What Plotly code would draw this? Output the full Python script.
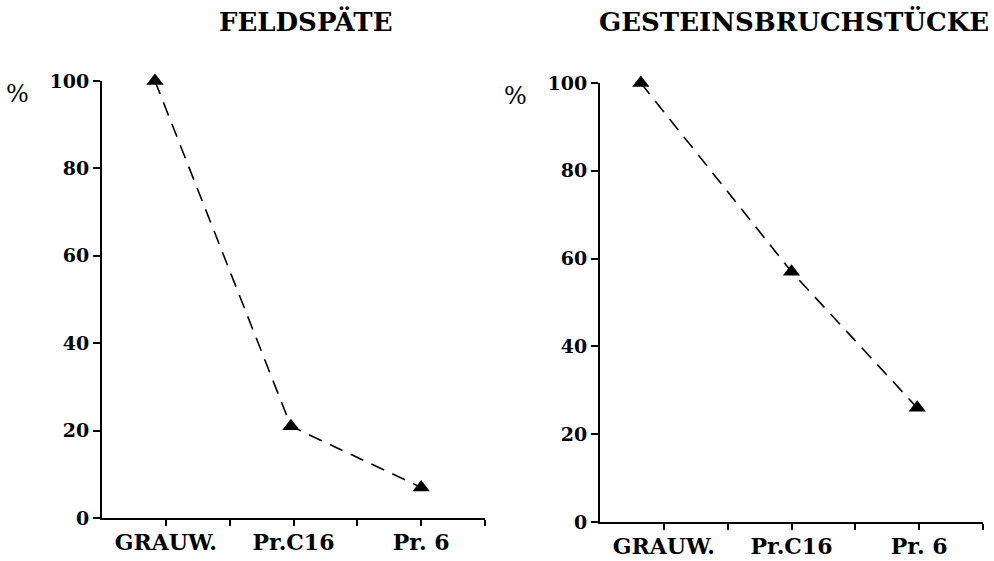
import plotly.graph_objects as go

categories = ["GRAUW.", "Pr.C16", "Pr. 6"]
cat_pos = [1, 3, 5]
feld_x = [0.83, 2.96, 5.0]
feld_y = [100, 21, 7]
gest_x = [0.64, 3.0, 4.97]
gest_y = [100, 57, 26]
y_ticks = [0, 20, 40, 60, 80, 100]
titles = ["FELDSPÄTE", "GESTEINSBRUCHSTÜCKE"]

W, H = 994, 561
FONT = "DejaVu Serif"

fig = go.Figure()
line = dict(color="black", width=1.6, dash="14px,9px")
mk = dict(symbol="triangle-up", size=15, color="black")
fig.add_trace(go.Scatter(x=feld_x, y=feld_y, mode="lines+markers", line=line, marker=mk,
                         xaxis="x", yaxis="y", cliponaxis=False, showlegend=False))
fig.add_trace(go.Scatter(x=gest_x, y=gest_y, mode="lines+markers", line=line, marker=mk,
                         xaxis="x2", yaxis="y2", cliponaxis=False, showlegend=False))

def xax(domain, anchor):
    return dict(domain=domain, anchor=anchor, range=[0, 6], showgrid=False, zeroline=False,
                automargin=False,
                showline=True, linecolor="black", linewidth=2,
                tickvals=cat_pos, ticktext=categories, ticks="outside", ticklen=6,
                tickwidth=2, tickcolor="black",
                minor=dict(tickvals=[2, 4, 6], ticks="outside", ticklen=6, tickwidth=2, tickcolor="black"),
                tickfont=dict(family=FONT, size=22, color="black", weight="bold"),
                ticklabelstandoff=-2)

def yax(domain, anchor):
    return dict(domain=domain, anchor=anchor, range=[0, 100], showgrid=False, zeroline=False,
                automargin=False,
                showline=True, linecolor="black", linewidth=2,
                tickvals=y_ticks, ticks="outside", ticklen=7, tickwidth=2, tickcolor="black",
                tickfont=dict(family=FONT, size=19, color="black", weight="bold"),
                ticklabelstandoff=0)

fig.update_layout(
    width=W, height=H, margin=dict(l=0, r=0, t=0, b=0, autoexpand=False),
    paper_bgcolor="white", plot_bgcolor="white",
    xaxis=xax([102 / W, 485 / W], "y"),
    yaxis=yax([1 - 518 / H, 1 - 81 / H], "x"),
    xaxis2=xax([600 / W, 983 / W], "y2"),
    yaxis2=yax([1 - 522 / H, 1 - 83 / H], "x2"),
    annotations=[
        dict(text=titles[0], x=305 / W, y=1 - 22 / H, xref="paper", yref="paper",
             xanchor="center", yanchor="middle",
             showarrow=False, font=dict(family=FONT, size=26, color="black", weight="bold")),
        dict(text=titles[1], x=794 / W, y=1 - 22 / H, xref="paper", yref="paper",
             xanchor="center", yanchor="middle",
             showarrow=False, font=dict(family=FONT, size=26, color="black", weight="bold")),
        dict(text="%", x=17 / W, y=1 - 94 / H, xref="paper", yref="paper",
             xanchor="center", yanchor="middle",
             showarrow=False, font=dict(family=FONT, size=24, color="black")),
        dict(text="%", x=515 / W, y=1 - 96 / H, xref="paper", yref="paper",
             xanchor="center", yanchor="middle",
             showarrow=False, font=dict(family=FONT, size=24, color="black")),
    ],
)

fig.write_html("out.html", config={"displayModeBar": False},
               post_script="document.body.style.margin='0';document.body.style.overflow='hidden';")
